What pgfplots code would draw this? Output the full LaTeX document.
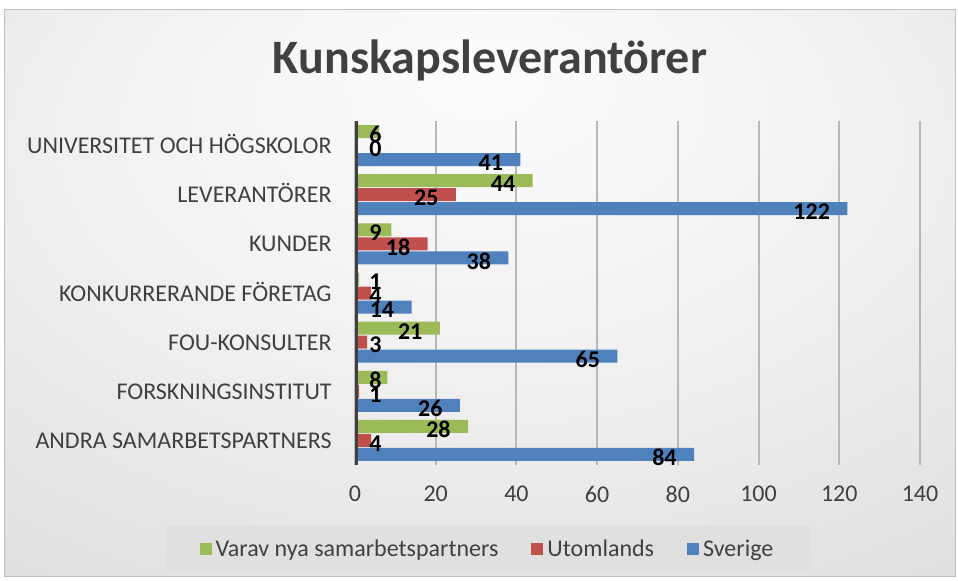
\documentclass[border=0pt]{standalone}
\usepackage{pgfplots}
\pgfplotsset{compat=1.18}
\usepackage{pgfplotstable}
\usepackage{fontspec}
\setmainfont{Carlito}

\definecolor{txt}{HTML}{404040}
\definecolor{cgreen}{HTML}{9BBB59}
\definecolor{cred}{HTML}{C0504D}
\definecolor{cblue}{HTML}{4F81BD}

% light centre, grey edges
\pgfdeclareradialshading{chartbg}{\pgfpoint{0bp}{20bp}}{%
  color(0bp)=(white!99!black); color(22bp)=(white!94!black);
  color(50bp)=(white!85!black); color(72bp)=(white!78!black)}

% bottom (0) to top (6)
\pgfplotstableread{
cat sverige utomlands varav
0   84  4   28
1   26  1   8
2   65  3   21
3   14  4   1
4   38  18  9
5   122 25  44
6   41  0   6
}\kunskap

\begin{document}
\begin{tikzpicture}
  \path[use as bounding box] (0,0) rectangle (479pt,290pt);
  \shade[shading=chartbg, draw=black!25, line width=0.5pt] (2pt,2pt) rectangle (477.5pt,285pt);
  \node[font=\fontsize{24}{28}\selectfont\bfseries, text=txt] at (245pt,260pt) {Kunskapsleverantörer};

  \begin{axis}[
      at={(177.5pt,57.5pt)}, anchor=south west,
      scale only axis,
      width=282.5pt, height=172pt,
      xbar=0.5pt, bar width=6.5pt,
      xmin=0, xmax=140,
      ymin=-0.5, ymax=6.5,
      xtick={0,20,...,140},
      ytick={0,...,6},
      yticklabels={ANDRA SAMARBETSPARTNERS, FORSKNINGSINSTITUT, FOU-KONSULTER,
                   KONKURRERANDE FÖRETAG, KUNDER, LEVERANTÖRER,
                   UNIVERSITET OCH HÖGSKOLOR},
      major tick length=0pt,
      axis line style={draw=none},
      xmajorgrids,
      grid style={black!28, line width=1pt},
      /pgf/number format/assume math mode=true,
      xticklabel style={font=\fontsize{12}{14}\selectfont, text=txt,
                        inner sep=0pt, anchor=north, yshift=-10.25pt},
      yticklabel style={font=\fontsize{12}{14}\selectfont, text=txt,
                        inner sep=0pt, anchor=east, text height=8pt, text depth=0pt,
                        xshift=-11.5pt},
      visualization depends on=rawx \as \rawx,
      nodes near coords,
      every node near coord/.append style={
          font=\fontsize{12}{14}\selectfont\bfseries, text=black,
          inner sep=0pt, anchor=east, yshift=-1.5pt,
          xshift={max(-8.5pt, 13.5pt-\rawx*2.01786pt)}},
      reverse legend,
      legend columns=3,
      legend image code/.code={\fill[#1] (-1.5pt,-3pt) rectangle (4.5pt,3pt);},
      legend style={at={(0.2363,-0.2456)}, anchor=center,
                    draw=none, fill=white!88!black,
                    font=\fontsize{12}{14}\selectfont, text=txt,
                    inner xsep=17pt, inner ysep=5pt,
                    /tikz/every even column/.append style={column sep=14.5pt}},
    ]
    \addplot[fill=cblue, draw=none] table[x=sverige, y=cat] {\kunskap};
    \addlegendentry{Sverige}
    \addplot[fill=cred, draw=none] table[x=utomlands, y=cat] {\kunskap};
    \addlegendentry{Utomlands}
    \addplot[fill=cgreen, draw=none] table[x=varav, y=cat] {\kunskap};
    \addlegendentry{Varav nya samarbetspartners}

    \draw[txt, line width=2.5pt] (axis cs:0,-0.5) -- (axis cs:0,6.5);
  \end{axis}
\end{tikzpicture}
\end{document}
